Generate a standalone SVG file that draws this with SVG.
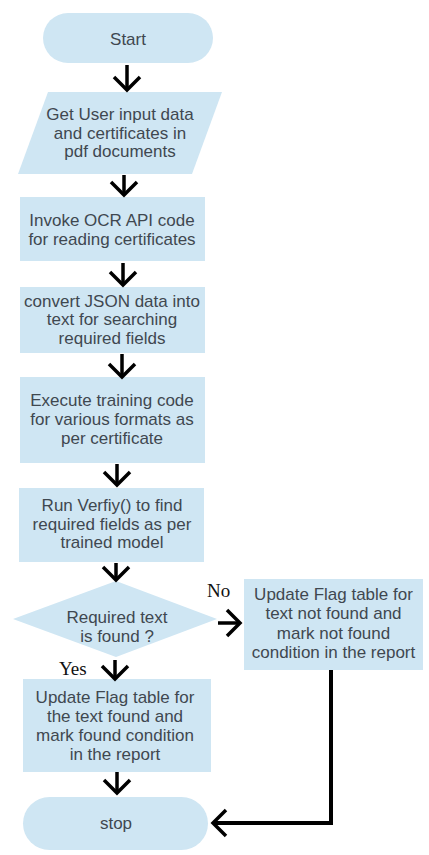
<svg xmlns="http://www.w3.org/2000/svg" width="429" height="855" viewBox="0 0 429 855">
  <style>
    .shape { fill: #cfe6f3; stroke: none; }
    .label { font-family: "Liberation Sans", Arial, sans-serif; font-size: 17px; fill: #3f4850; text-anchor: middle; }
    .branch { font-family: "Liberation Serif", "Times New Roman", serif; font-size: 19px; fill: #111111; }
    .flow { fill: none; stroke: #000000; stroke-width: 3.5; marker-end: url(#chev); }
    .loop { fill: none; stroke: #000000; stroke-width: 4; marker-end: url(#chev); }
  </style>
  <defs>
    <marker id="chev" viewBox="-16 -16 20 32" markerWidth="20" markerHeight="32" refX="0" refY="0" orient="auto" markerUnits="userSpaceOnUse" overflow="visible">
      <path d="M-13,-13 L0,0 L-13,13" fill="none" stroke="#000000" stroke-width="3.5"/>
    </marker>
  </defs>
  <rect width="429" height="855" fill="#ffffff"/>

  <g id="start">
    <rect class="shape" x="43" y="13" width="170" height="50" rx="25"/>
    <text class="label" x="128" y="45">Start</text>
  </g>

  <g id="input">
    <polygon class="shape" points="48,92 222,92 192,174 18,174"/>
    <text class="label" x="120" y="120">Get User input data<tspan x="120" dy="18.5">and certificates in</tspan><tspan x="120" dy="18.5">pdf documents</tspan></text>
  </g>

  <g id="ocr">
    <rect class="shape" x="20" y="197" width="185" height="64"/>
    <text class="label" x="112" y="226">Invoke OCR API code<tspan x="112" dy="18.5">for reading certificates</tspan></text>
  </g>

  <g id="convert">
    <rect class="shape" x="20" y="287" width="185" height="66"/>
    <text class="label" x="112" y="306.5">convert JSON data into<tspan x="112" dy="18.5">text for searching</tspan><tspan x="112" dy="18.5">required fields</tspan></text>
  </g>

  <g id="training">
    <rect class="shape" x="20" y="377" width="185" height="86"/>
    <text class="label" x="112" y="406">Execute training code<tspan x="112" dy="19">for various formats as</tspan><tspan x="112" dy="19">per certificate</tspan></text>
  </g>

  <g id="verify">
    <rect class="shape" x="19" y="488" width="185" height="74"/>
    <text class="label" x="112" y="511">Run Verfiy() to find<tspan x="112" dy="18.5">required fields as per</tspan><tspan x="112" dy="18.5">trained model</tspan></text>
  </g>

  <g id="decision">
    <polygon class="shape" points="116,581 217,619 116,657 13,619"/>
    <text class="label" x="117" y="623">Required text<tspan x="117" dy="18.5">is found ?</tspan></text>
  </g>

  <g id="not-found">
    <rect class="shape" x="244" y="579" width="179" height="91"/>
    <text class="label" x="333.5" y="600">Update Flag table for<tspan x="333.5" dy="19.3">text not found and</tspan><tspan x="333.5" dy="19.3">mark not found</tspan><tspan x="333.5" dy="19.3">condition in the report</tspan></text>
  </g>

  <g id="found">
    <rect class="shape" x="23" y="679" width="188" height="93"/>
    <text class="label" x="115" y="703">Update Flag table for<tspan x="115" dy="19">the text found and</tspan><tspan x="115" dy="19">mark found condition</tspan><tspan x="115" dy="19">in the report</tspan></text>
  </g>

  <g id="stop">
    <rect class="shape" x="23" y="797" width="185" height="53" rx="26.5"/>
    <text class="label" x="116" y="829">stop</text>
  </g>

  <g id="connectors">
    <path class="flow" d="M127,65 V90"/>
    <path class="flow" d="M124,175 V195"/>
    <path class="flow" d="M123,263 V285"/>
    <path class="flow" d="M122,354 V377"/>
    <path class="flow" d="M117,464 V485"/>
    <path class="flow" d="M116,563 V580"/>
    <path class="flow" d="M218,623 H240"/>
    <path class="flow" d="M115,660 V679"/>
    <path class="flow" d="M117,772 V793"/>
    <path class="loop" d="M331,670 V823 H213"/>
    <text class="branch" x="207" y="597">No</text>
    <text class="branch" x="59" y="675">Yes</text>
  </g>
</svg>
